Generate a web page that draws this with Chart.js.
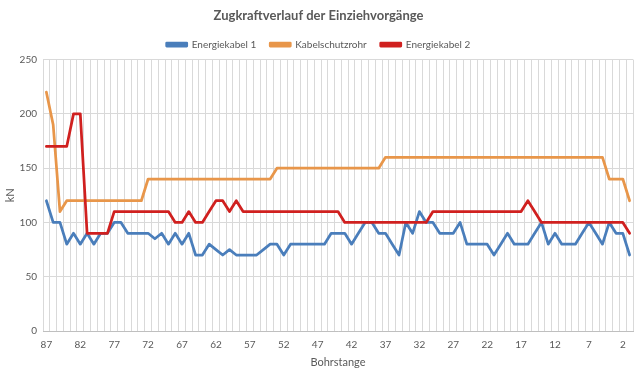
<!DOCTYPE html>
<html>
<head>
<meta charset="utf-8">
<script src="https://cdn.jsdelivr.net/npm/chart.js@4/dist/chart.umd.min.js"></script>
<style>
html,body{margin:0;padding:0;background:#fff;}
#wrap{width:640px;height:375px;position:relative;}
</style>
</head>
<body>
<div id="wrap"><canvas id="c" width="640" height="375"></canvas></div>
<script>
const categories = [87,86,85,84,83,82,81,80,79,78,77,76,75,74,73,72,71,70,69,68,67,66,65,64,63,62,61,60,59,58,57,56,55,54,53,52,51,50,49,48,47,46,45,44,43,42,41,40,39,38,37,36,35,34,33,32,31,30,29,28,27,26,25,24,23,22,21,20,19,18,17,16,15,14,13,12,11,10,9,8,7,6,5,4,3,2,1];
const tickLabels = [87,82,77,72,67,62,57,52,47,42,37,32,27,22,17,12,7,2];
const energiekabel1 = [120,100,100,80,90,80,90,80,90,90,100,100,90,90,90,90,85,90,80,90,80,90,70,70,80,75,70,75,70,70,70,70,75,80,80,70,80,80,80,80,80,80,90,90,90,80,90,100,100,90,90,80,70,100,90,110,100,100,90,90,90,100,80,80,80,80,70,80,90,80,80,80,90,100,80,90,80,80,80,90,100,90,80,100,90,90,70];
const kabelschutzrohr = [220,190,110,120,120,120,120,120,120,120,120,120,120,120,120,140,140,140,140,140,140,140,140,140,140,140,140,140,140,140,140,140,140,140,150,150,150,150,150,150,150,150,150,150,150,150,150,150,150,150,160,160,160,160,160,160,160,160,160,160,160,160,160,160,160,160,160,160,160,160,160,160,160,160,160,160,160,160,160,160,160,160,160,140,140,140,120];
const energiekabel2 = [170,170,170,170,200,200,90,90,90,90,110,110,110,110,110,110,110,110,110,100,100,110,100,100,110,120,120,110,120,110,110,110,110,110,110,110,110,110,110,110,110,110,110,110,100,100,100,100,100,100,100,100,100,100,100,100,100,110,110,110,110,110,110,110,110,110,110,110,110,110,110,120,110,100,100,100,100,100,100,100,100,100,100,100,100,100,90];
const yTicks = [0,50,100,150,200,250];

const txt = '#595959';
const grid = '#d9d9d9';
const fam = 'Lato, "Open Sans", sans-serif';

new Chart(document.getElementById('c'), {
  type: 'line',
  data: {
    labels: categories,
    datasets: [
      {label:'Energiekabel 1', data: energiekabel1, borderColor:'#4A7EBB', backgroundColor:'#4A7EBB', order:3},
      {label:'Kabelschutzrohr', data: kabelschutzrohr, borderColor:'#E8964A', backgroundColor:'#E8964A', order:2},
      {label:'Energiekabel 2', data: energiekabel2, borderColor:'#D0201F', backgroundColor:'#D0201F', order:1}
    ]
  },
  options: {
    responsive: false,
    animation: false,
    devicePixelRatio: 1,
    layout: {padding: {left: 4, right: 7, top: 0, bottom: 0}},
    elements: {
      point: {radius: 0},
      line: {borderWidth: 2.75, tension: 0, borderJoinStyle: 'round', borderCapStyle: 'round'}
    },
    plugins: {
      title: {display: true, text: 'Zugkraftverlauf der Einziehvorgänge', color: txt,
        font: {family: fam, size: 13, weight: 'bold'}, padding: {top: 8, bottom: 2}},
      legend: {display: true, position: 'top',
        labels: {color: txt, font: {family: fam, size: 10}, boxWidth: 20, boxHeight: 3, padding: 14,
          sort: function(a, b){ return a.datasetIndex - b.datasetIndex; }}},
      tooltip: {enabled: false}
    },
    scales: {
      x: {
        offset: true,
        grid: {color: grid, offset: true, drawTicks: false},
        border: {color: '#bfbfbf'},
        ticks: {color: txt, font: {family: fam, size: 10}, autoSkip: false, maxRotation: 0, minRotation: 0, padding: 8,
          callback: function(v, i){ const l = categories[i]; return tickLabels.includes(l) ? String(l) : ''; }},
        title: {display: true, text: 'Bohrstange', color: txt, font: {family: fam, size: 11}, padding: {top: 2, bottom: 6}},
        afterFit: function(s){ s.height = 44; }
      },
      y: {
        min: 0, max: 250,
        grid: {color: grid, drawTicks: false},
        border: {display: false},
        ticks: {color: txt, font: {family: fam, size: 10}, stepSize: 50, padding: 6,
          callback: function(v){ return yTicks.includes(v) ? String(v) : ''; }},
        title: {display: true, text: 'kN', color: txt, font: {family: fam, size: 11}, padding: 0},
        afterFit: function(s){ s.width = 39; }
      }
    }
  }
});
</script>
</body>
</html>
